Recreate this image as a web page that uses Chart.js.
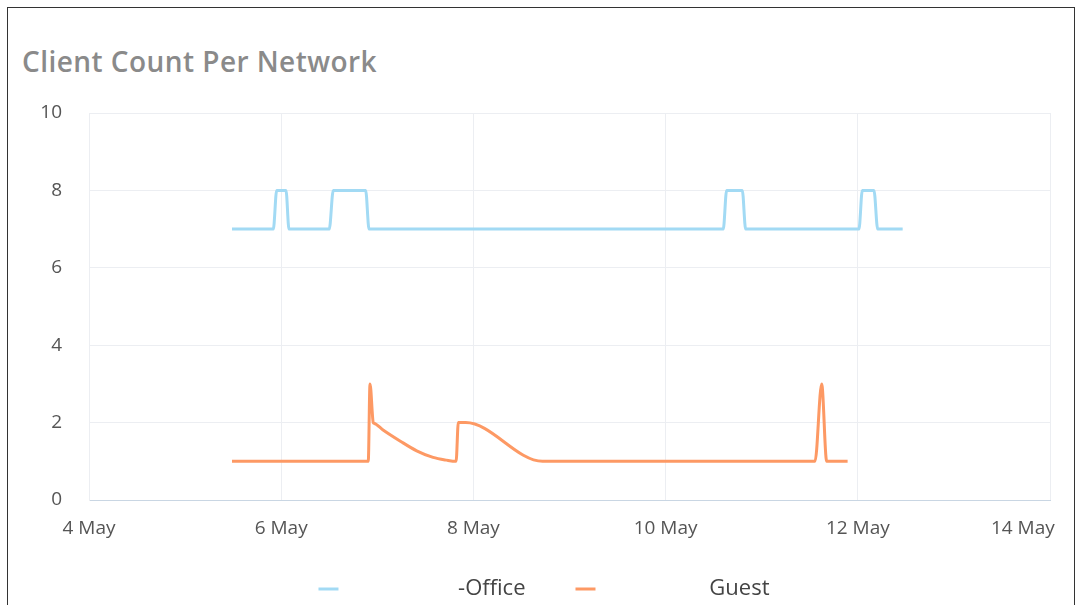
<!DOCTYPE html>
<html>
<head>
<meta charset="utf-8">
<script src="https://cdn.jsdelivr.net/npm/chart.js@4.4.1/dist/chart.umd.min.js"></script>
<style>
    body { margin: 0; background: #fff; overflow: hidden; }
    .box {
        position: absolute; left: 7px; top: 7px;
        width: 1066px; height: 700px;
        border: 1px solid #333;
    }
    .title {
        position: absolute; left: 22px; top: 43px;
        font-family: "Open Sans", sans-serif; font-weight: 600;
        font-size: 28px; line-height: 36px; color: #8a8a8a;
        letter-spacing: 0.45px;
    }
    #chart { position: absolute; left: 0; top: 0; }
</style>
</head>
<body>
<div class="box"></div>
<div class="title">Client Count Per Network</div>
<canvas id="chart" width="1081" height="640"></canvas>
<script>
// x values are days of May (fractional)
var officeX = [5.488, 5.918, 5.953, 6.050, 6.081, 6.500, 6.542, 6.879, 6.914, 10.600, 10.635, 10.798, 10.833, 12.012, 12.047, 12.168, 12.207, 12.467];
var officeY = [7, 7, 8, 8, 7, 7, 8, 8, 7, 7, 8, 8, 7, 7, 8, 8, 7, 7];

var guestX = [5.488, 6.906, 6.924, 6.958, 6.966, 7.06, 7.24, 7.41, 7.58, 7.72, 7.82, 7.843, 7.92, 8.72, 11.555, 11.624, 11.676, 11.894];
var guestY = [1, 1, 3, 2, 1.985, 1.81, 1.52, 1.27, 1.10, 1.03, 1, 2, 2, 1, 1, 3, 1, 1];

var xTicks = [4, 6, 8, 10, 12, 14];
var yTicks = [0, 2, 4, 6, 8, 10];

// legend names (part of the network name is blank in the original)
var officeLabel = '                   -Office       ';
var guestLabel = '                  Guest';

function toPoints(xs, ys) {
    return xs.map(function (x, i) { return {x: x, y: ys[i]}; });
}

var ctx = document.getElementById('chart').getContext('2d');
var chart = new Chart(ctx, {
    type: 'line',
    data: {
        datasets: [{
            label: officeLabel,
            data: toPoints(officeX, officeY),
            borderColor: '#a2daf4',
            backgroundColor: '#a2daf4',
            borderWidth: 3,
            pointRadius: 0,
            pointStyle: 'line',
            cubicInterpolationMode: 'monotone'
        }, {
            label: guestLabel,
            data: toPoints(guestX, guestY),
            borderColor: '#fd9964',
            backgroundColor: '#fd9964',
            borderWidth: 3,
            pointRadius: 0,
            pointStyle: 'line',
            cubicInterpolationMode: 'monotone'
        }]
    },
    options: {
        responsive: false,
        animation: false,
        devicePixelRatio: 1,
        layout: { padding: { left: 38, right: 31, top: 113, bottom: 30 } },
        plugins: {
            title: { display: false },
            tooltip: { enabled: false },
            legend: {
                position: 'bottom',
                labels: {
                    usePointStyle: true,
                    pointStyleWidth: 20,
                    padding: 10,
                    color: '#444',
                    font: { family: 'Open Sans', size: 22 }
                }
            }
        },
        scales: {
            x: {
                type: 'linear',
                min: xTicks[0],
                max: xTicks[xTicks.length - 1],
                afterBuildTicks: function (scale) {
                    scale.ticks = xTicks.map(function (v) { return {value: v}; });
                },
                afterFit: function (scale) {
                    scale.paddingLeft = 0;
                    scale.paddingRight = 0;
                    scale.height = 68;
                },
                grid: { color: '#eceef2', drawTicks: false },
                border: { color: '#c9d6e3' },
                ticks: {
                    padding: 17,
                    maxRotation: 0,
                    autoSkip: false,
                    color: '#555',
                    font: { family: 'Open Sans', size: 19 },
                    callback: function (v) {
                        // last label is pushed left so it stays inside the card
                        return v + ' May' + (v === 14 ? '           ' : '');
                    }
                }
            },
            y: {
                min: yTicks[0],
                max: yTicks[yTicks.length - 1],
                afterBuildTicks: function (scale) {
                    scale.ticks = yTicks.map(function (v) { return {value: v}; });
                },
                afterFit: function (scale) {
                    scale.width = 51;
                    scale.paddingTop = 0;
                    scale.paddingBottom = 0;
                },
                grid: { color: '#eceef2', drawTicks: false },
                border: { color: '#eceef2' },
                ticks: {
                    padding: 27,
                    color: '#555',
                    font: { family: 'Open Sans', size: 19 }
                }
            }
        }
    }
});
</script>
</body>
</html>
